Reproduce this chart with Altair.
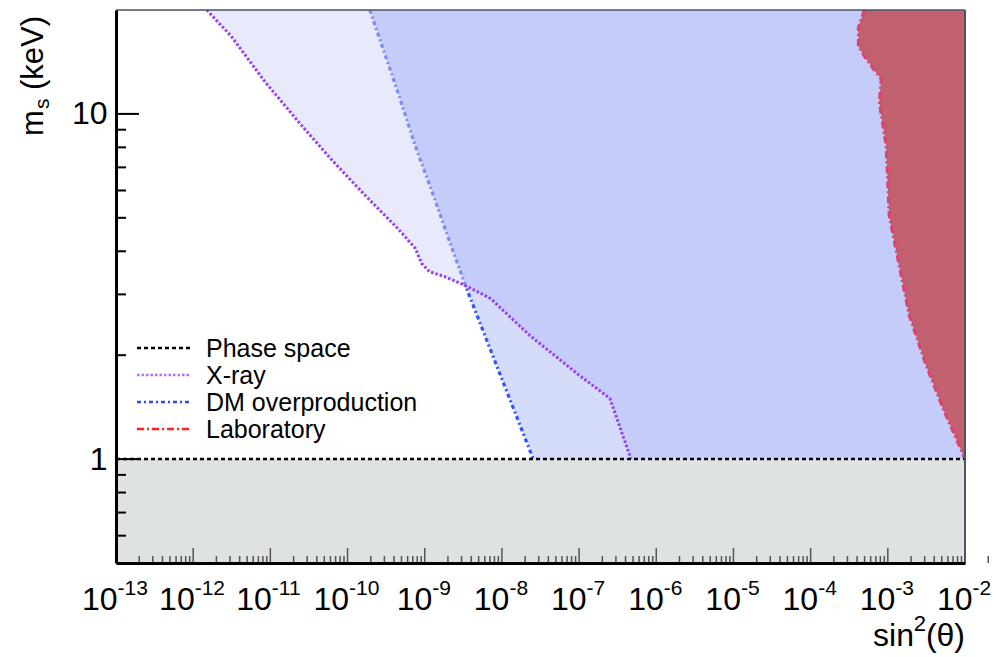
import altair as alt
import pandas as pd

FONT = "Liberation Sans"

# ---------------- data ----------------
S_RANGE = [1e-13, 1e-2]          # sin^2(theta) axis range
M_RANGE = [0.5, 20.0]            # m_s (keV) axis range

PHASE_S = [1e-13, 1e-2]
PHASE_M = [1.0, 1.0]

XRAY_S = [1.5e-12, 3.1e-12, 8.5e-12, 2.3e-11, 6.1e-11, 1.7e-10, 4.5e-10, 7.6e-10,
          9.1e-10, 1.15e-9, 1.8e-9, 3.6e-9, 7.1e-9, 2.3e-8, 1.0e-7, 2.5e-7, 4.7e-7]
XRAY_M = [20.0, 16.8, 12.4, 9.5, 7.4, 5.8, 4.65, 4.07,
          3.69, 3.49, 3.38, 3.16, 2.92, 2.28, 1.75, 1.50, 1.0]

DM_S = [1.94e-10, 4.46e-10, 7.6e-10, 1.34e-9, 2.09e-9, 3.37e-9, 2.55e-8]
DM_M = [20.0, 11.6, 8.03, 5.68, 4.27, 3.18, 1.0]

LAB_S = [4.95e-4, 4.15e-4, 4.15e-4, 5.26e-4, 8.2e-4, 7.75e-4, 9.5e-4, 1.04e-3,
         1.40e-3, 1.89e-3, 3.13e-3, 5.2e-3, 1.0e-2]
LAB_M = [20.0, 17.8, 15.7, 14.4, 12.6, 10.8, 8.08, 5.07,
         3.64, 2.61, 1.87, 1.40, 1.0]

SERIES = ["Phase space", "X-ray", "DM overproduction", "Laboratory"]

X_EXPONENTS = list(range(-13, -1))
X_MINOR_MULT = [2, 3, 4, 5, 6, 7, 8, 9]
Y_MAJOR = [1, 10]
Y_MINOR = [0.6, 0.7, 0.8, 0.9, 2, 3, 4, 5, 6, 7, 8, 9]

X_TITLE = ["sin", "2", "(θ)"]
Y_TITLE = ["m", "s", "(keV)"]

# ---------------- styles ----------------
W, H = 849, 553
STYLE = {
    "Phase space": dict(color="black", strokeDash=[4, 3], strokeWidth=2.5),
    "X-ray": dict(color="#9a40f2", strokeDash=[2.5, 2], strokeWidth=3),
    "DM overproduction": dict(color="#2a4cff", strokeDash=[4, 3, 2, 3], strokeWidth=3.2),
    "Laboratory": dict(color="#e0406e", strokeDash=[7, 3, 2, 3], strokeWidth=3),
}
LEGEND_COLORS = {"Phase space": "black", "X-ray": "#b36bff",
                 "DM overproduction": "#2a4cff", "Laboratory": "#ff2020"}

XS = alt.Scale(type="log", domain=S_RANGE, nice=False)
YS = alt.Scale(type="log", domain=M_RANGE, nice=False)
X_AXIS = alt.Axis(labels=False, ticks=False, grid=False, title=None,
                  domainColor="black", domainWidth=3, zindex=2)
Y_AXIS = alt.Axis(values=Y_MAJOR, format="~g", ticks=False, grid=False, title=None,
                  domainColor="black", domainWidth=3, labelFont=FONT,
                  labelFontSize=32, labelColor="black", labelPadding=9, zindex=2)


def X(f):
    return alt.X(f, type="quantitative", scale=XS, axis=X_AXIS)


def Y(f):
    return alt.Y(f, type="quantitative", scale=YS, axis=Y_AXIS)


def curve(s, m):
    return pd.DataFrame({"s": s, "m": m, "s2": [S_RANGE[1]] * len(s),
                         "i": list(range(len(s)))})


xray = curve(XRAY_S, XRAY_M)
dm = curve(DM_S, DM_M)
lab = curve(LAB_S, LAB_M)
phase = curve(PHASE_S, PHASE_M)

layers = []

# excluded region below phase-space bound
band = pd.DataFrame({"s": [S_RANGE[0]], "s2": [S_RANGE[1]],
                     "m": [M_RANGE[0]], "m2": [PHASE_M[0]]})
layers.append(alt.Chart(band).mark_rect(color="#dee3e2").encode(
    x=X("s"), x2="s2", y=Y("m"), y2="m2"))


def line(df, name):
    st = STYLE[name]
    return alt.Chart(df).mark_line(strokeCap="butt", **st).encode(
        x=X("s"), y=Y("m"), order="i:Q")


def fill(df, color, opacity):
    return alt.Chart(df).mark_area(orient="horizontal", color=color,
                                   opacity=opacity).encode(
        y=Y("m"), x=X("s"), x2="s2")


layers.append(line(dm, "DM overproduction"))
layers.append(fill(xray, "#d3d3f9", 0.5))
layers.append(fill(dm, "#647df0", 0.27))
layers.append(fill(lab, "#c1606f", 1.0))
layers.append(line(lab, "Laboratory"))
layers.append(line(xray, "X-ray"))
layers.append(line(phase, "Phase space"))

# ticks (drawn inside the frame)
x_major = pd.DataFrame({"s": [10.0 ** e for e in X_EXPONENTS] + [S_RANGE[1]]})
x_minor = pd.DataFrame({"s": [k * 10.0 ** e for e in X_EXPONENTS for k in X_MINOR_MULT]})
layers.append(alt.Chart(x_major).mark_rule(color="#555555", strokeWidth=1.5).encode(
    x=X("s"), y=alt.value(H), y2=alt.value(H - 15)))
layers.append(alt.Chart(x_minor).mark_rule(color="#555555", strokeWidth=1.5).encode(
    x=X("s"), y=alt.value(H), y2=alt.value(H - 7)))
layers.append(alt.Chart(pd.DataFrame({"m": Y_MAJOR})).mark_rule(color="black", strokeWidth=2).encode(
    y=Y("m"), x=alt.value(0), x2=alt.value(23)))
layers.append(alt.Chart(pd.DataFrame({"m": Y_MINOR})).mark_rule(color="black", strokeWidth=2).encode(
    y=Y("m"), x=alt.value(0), x2=alt.value(10)))

# frame (top, right)
dummy = pd.DataFrame({"a": [0]})
layers.append(alt.Chart(dummy).mark_rule(color="#4d5564", strokeWidth=1.5).encode(
    x=alt.value(0), x2=alt.value(W), y=alt.value(0)))
layers.append(alt.Chart(dummy).mark_rule(color="#4d5564", strokeWidth=2).encode(
    x=alt.value(W), y=alt.value(0), y2=alt.value(H)))

# x tick labels 10^n
xl = pd.DataFrame({"s": [10.0 ** e for e in X_EXPONENTS],
                   "base": ["10"] * len(X_EXPONENTS),
                   "exp": [str(e) for e in X_EXPONENTS]})
for nchar, dx in [(3, 1.5), (2, 7.5)]:
    sub = alt.Chart(xl).transform_filter(f"length(datum.exp) == {nchar}")
    layers.append(sub.mark_text(align="right", baseline="alphabetic", dx=dx,
                                font=FONT, fontSize=32, color="black").encode(
        x=X("s"), y=alt.value(H + 47), text="base:N"))
    layers.append(sub.mark_text(align="left", baseline="alphabetic", dx=dx,
                                font=FONT, fontSize=21, color="black").encode(
        x=X("s"), y=alt.value(H + 32), text="exp:N"))

# axis titles
for txt, xpos, ypos, fs in [(X_TITLE[2], W, H + 83, 32), (X_TITLE[1], W - 39, H + 68, 22),
                            (X_TITLE[0], W - 51, H + 83, 32)]:
    layers.append(alt.Chart(pd.DataFrame({"t": [txt]})).mark_text(
        align="right", baseline="alphabetic", font=FONT, fontSize=fs, color="black").encode(
        x=alt.value(xpos), y=alt.value(ypos), text="t:N"))
for txt, xpos, ypos, fs in [(Y_TITLE[0], -73, 126, 31), (Y_TITLE[1], -67, 99, 21),
                            (Y_TITLE[2], -73, 80, 31)]:
    layers.append(alt.Chart(pd.DataFrame({"t": [txt]})).mark_text(
        align="left", baseline="alphabetic", angle=270, font=FONT, fontSize=fs,
        color="black").encode(x=alt.value(xpos), y=alt.value(ypos), text="t:N"))

# legend
LEG_BASE = [347, 374, 401, 428]
for name, yb in zip(SERIES, LEG_BASE):
    st = dict(STYLE[name])
    st["color"] = LEGEND_COLORS[name]
    st["strokeWidth"] = 2.5
    layers.append(alt.Chart(dummy).mark_rule(strokeCap="butt", **st).encode(
        x=alt.value(21), x2=alt.value(74), y=alt.value(yb - 9)))
    layers.append(alt.Chart(pd.DataFrame({"t": [name]})).mark_text(
        align="left", baseline="alphabetic", font=FONT, fontSize=25, color="black").encode(
        x=alt.value(90), y=alt.value(yb), text="t:N"))

chart = alt.layer(*layers).properties(
    width=W, height=H,
    padding={"left": 108, "top": 2, "right": 27, "bottom": 90},
    autosize=alt.AutoSizeParams(type="none"),
).configure_view(stroke=None).configure(font=FONT)

chart.save("out.html", embed_options={"renderer": "svg", "actions": False})
